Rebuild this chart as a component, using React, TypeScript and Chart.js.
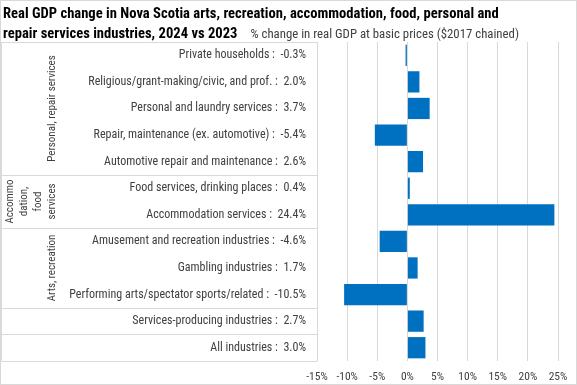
import React, { useEffect, useRef } from "react";
import { Chart, registerables } from "chart.js";

Chart.register(...registerables);

const categories = [
  "Private households",
  "Religious/grant-making/civic, and prof.",
  "Personal and laundry services",
  "Repair, maintenance (ex. automotive)",
  "Automotive repair and maintenance",
  "Food services, drinking places",
  "Accommodation services",
  "Amusement and recreation industries",
  "Gambling industries",
  "Performing arts/spectator sports/related",
  "Services-producing industries",
  "All industries",
];
const values = [-0.3, 2.0, 3.7, -5.4, 2.6, 0.4, 24.4, -4.6, 1.7, -10.5, 2.7, 3.0];

const groupLabels = [["Personal, repair services"], ["Accommo", "dation,", "food", "services"], ["Arts, recreation"]];
const groupStart = [0, 5, 7];
const groupEnd = [4, 6, 9];
// rows after which a separator line is drawn in the label table
const separatorsAfter = [4, 6, 9, 10, 11];

const xMin = -15;
const xMax = 25;
const xStep = 5;

const titleLine1 = "Real GDP change in Nova Scotia arts, recreation, accommodation, food, personal and";
const titleLine2 = "repair services industries, 2024 vs 2023";
const subtitle = "% change in real GDP at basic prices ($2017 chained)";

const FONT = "'Liberation Sans Narrow', 'Roboto Condensed', 'DejaVu Sans Condensed', sans-serif";

const fmt = (v: number) => v.toFixed(1) + "%";

const decorPlugin = {
  id: "decor",
  beforeDraw(chart: any) {
    const ctx = chart.ctx;
    const ca = chart.chartArea;
    const y = chart.scales.y;
    const half = (y.getPixelForValue(1) - y.getPixelForValue(0)) / 2;
    ctx.save();
    ctx.strokeStyle = "#d9d9d9";
    ctx.lineWidth = 1;
    // outer chart border
    ctx.strokeRect(0.5, 0.5, chart.width - 1, chart.height - 1);
    // label table
    const left = 1.5;
    const right = Math.round(ca.left) + 0.5;
    ctx.beginPath();
    ctx.moveTo(left, Math.round(ca.top) + 0.5);
    ctx.lineTo(right, Math.round(ca.top) + 0.5);
    ctx.moveTo(left, ca.top);
    ctx.lineTo(left, ca.bottom);
    for (const i of separatorsAfter) {
      const yy = Math.round(y.getPixelForValue(i) + half) + 0.5;
      ctx.moveTo(left, yy);
      ctx.lineTo(right, yy);
    }
    ctx.stroke();
    ctx.restore();
  },
  afterDraw(chart: any) {
    const ctx = chart.ctx;
    const ca = chart.chartArea;
    const y = chart.scales.y;
    const half = (y.getPixelForValue(1) - y.getPixelForValue(0)) / 2;
    ctx.save();
    // title
    ctx.fillStyle = "#000000";
    ctx.textAlign = "left";
    ctx.textBaseline = "alphabetic";
    ctx.font = "bold 14.6px " + FONT;
    ctx.fillText(titleLine1, 3, 18);
    ctx.fillText(titleLine2, 3, 38);
    ctx.fillStyle = "#404040";
    ctx.font = "12.8px " + FONT;
    ctx.textAlign = "right";
    ctx.fillText(subtitle, 519, 38);
    // category labels
    ctx.font = "12px " + FONT;
    ctx.textBaseline = "middle";
    ctx.textAlign = "right";
    categories.forEach((c, i) => {
      const yy = y.getPixelForValue(i);
      ctx.fillText(c + " :  " + fmt(values[i]), ca.left - 11, yy);
    });
    // group labels (rotated)
    ctx.font = "11px " + FONT;
    ctx.textAlign = "center";
    groupLabels.forEach((lines, g) => {
      const yc = (y.getPixelForValue(groupStart[g]) - half + y.getPixelForValue(groupEnd[g]) + half) / 2;
      const lh = 14;
      const xLast = 52;
      lines.forEach((ln, k) => {
        const xx = xLast - (lines.length - 1 - k) * lh;
        ctx.save();
        ctx.translate(xx, yc);
        ctx.rotate(-Math.PI / 2);
        ctx.fillText(ln, 0, 0);
        ctx.restore();
      });
    });
    ctx.restore();
  },
};

export default function App() {
  const ref = useRef<HTMLCanvasElement>(null);
  useEffect(() => {
    document.body.style.margin = "0";
    const chart = new Chart(ref.current as HTMLCanvasElement, {
      type: "bar",
      data: {
        labels: categories,
        datasets: [
          {
            data: values,
            backgroundColor: "#0070C0",
            barPercentage: 0.8,
            categoryPercentage: 1,
          },
        ],
      },
      options: {
        indexAxis: "y",
        responsive: false,
        animation: false,
        layout: { padding: { left: 317, right: 19, top: 42, bottom: 0 } },
        plugins: { legend: { display: false }, tooltip: { enabled: false }, title: { display: false } },
        scales: {
          x: {
            min: xMin,
            max: xMax,
            grid: { color: "#d9d9d9", drawTicks: false },
            border: { display: false },
            ticks: {
              stepSize: xStep,
              padding: 9,
              maxRotation: 0,
              minRotation: 0,
              autoSkip: false,
              color: "#404040",
              font: { family: FONT, size: 11.5 },
              callback: (v: any) => v + "%",
            },
            afterFit: (s: any) => {
              s.height = 24;
            },
          },
          y: { display: false },
        },
      },
      plugins: [decorPlugin],
    } as any);
    return () => chart.destroy();
  }, []);
  return (
    <div style={{ width: 577, height: 385 }}>
      <canvas ref={ref} width={577} height={385} />
    </div>
  );
}
